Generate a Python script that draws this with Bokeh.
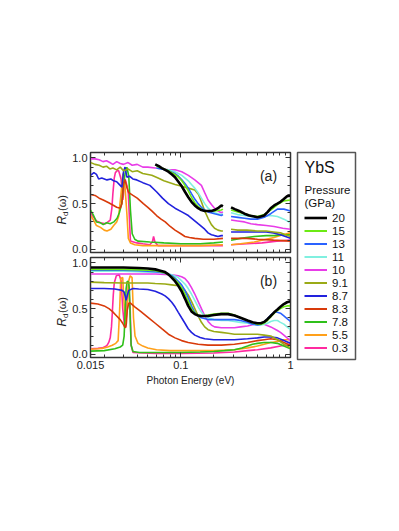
from bokeh.plotting import figure
from bokeh.layouts import row, column
from bokeh.models import (FixedTicker, PrintfTickFormatter, CustomJSTickFormatter, LogAxis,
                          LinearAxis, Label, Legend, LegendItem, Range1d)
from bokeh.embed import file_html
from bokeh.resources import INLINE

nan = float("nan")
FONT = "Liberation Sans"

PRESSURES = ["20", "15", "13", "11", "10", "9.1", "8.7", "8.3", "7.8", "5.5", "0.3"]
COLORS = ["#000000", "#6cea14", "#2a62ff", "#80f0e0", "#e83ce8", "#9aaa16",
          "#2222dd", "#d83a0a", "#2fc01a", "#ffa01a", "#ff2aa0"]

X_TICKS = [0.015, 0.1, 1.0]
X_MINOR = [0.02, 0.03, 0.04, 0.05, 0.06, 0.07, 0.08, 0.09,
           0.2, 0.3, 0.4, 0.5, 0.6, 0.7, 0.8, 0.9]
Y_TICKS = [0.0, 0.5, 1.0]
Y_MINOR = [0.1, 0.2, 0.3, 0.4, 0.6, 0.7, 0.8, 0.9]

# ---------------- panel (a): measured spectra (gap = diamond absorption) ----------
a20_x = [0.0584, 0.063, 0.067, 0.072, 0.077, 0.083, 0.0885, 0.095, 0.102, 0.109, 0.117, 0.125, 0.134, 0.1437, 0.154, 0.165, 0.177, 0.19, 0.203, 0.218, 0.234, 0.242, nan,
         0.287, 0.31, 0.34, 0.38, 0.42, 0.467, 0.5, 0.536, 0.575, 0.62, 0.66, 0.71, 0.76, 0.81, 0.87, 0.93, 1.0]
a20_y = [0.93, 0.91, 0.89, 0.87, 0.85, 0.82, 0.79, 0.74, 0.69, 0.63, 0.57, 0.52, 0.48, 0.45, 0.43, 0.42, 0.42, 0.42, 0.43, 0.45, 0.48, 0.47, nan,
         0.46, 0.44, 0.42, 0.39, 0.37, 0.36, 0.35, 0.36, 0.37, 0.41, 0.45, 0.48, 0.5, 0.52, 0.55, 0.58, 0.59]
a15_x = [0.06, 0.067, 0.077, 0.0885, 0.095, 0.102, 0.109, 0.117, 0.125, 0.134, 0.1437, 0.154, 0.165, 0.177, 0.203, 0.234, 0.242, nan,
         0.287, 0.33, 0.38, 0.435, 0.5, 0.575, 0.66, 0.76, 0.87, 1.0]
a15_y = [0.91, 0.89, 0.86, 0.82, 0.79, 0.75, 0.7, 0.64, 0.57, 0.51, 0.47, 0.44, 0.42, 0.42, 0.42, 0.43, 0.44, nan,
         0.43, 0.41, 0.39, 0.37, 0.36, 0.38, 0.43, 0.49, 0.53, 0.54]
a13_x = [0.06, 0.067, 0.077, 0.0885, 0.095, 0.102, 0.109, 0.117, 0.125, 0.134, 0.1437, 0.154, 0.165, 0.177, 0.203, 0.234, 0.242, nan,
         0.287, 0.33, 0.38, 0.435, 0.5, 0.575, 0.66, 0.76, 0.87, 1.0]
a13_y = [0.89, 0.88, 0.86, 0.83, 0.8, 0.76, 0.72, 0.67, 0.61, 0.55, 0.5, 0.46, 0.43, 0.41, 0.39, 0.37, 0.38, nan,
         0.36, 0.35, 0.34, 0.33, 0.33, 0.35, 0.39, 0.44, 0.44, 0.42]
a11_x = [0.06, 0.067, 0.077, 0.0885, 0.102, 0.117, 0.125, 0.134, 0.1437, 0.154, 0.165, 0.177, 0.19, 0.203, 0.218, 0.234, 0.242, nan,
         0.287, 0.33, 0.38, 0.435, 0.5, 0.575, 0.66, 0.76, 0.87, 1.0]
a11_y = [0.89, 0.88, 0.87, 0.85, 0.81, 0.75, 0.71, 0.67, 0.62, 0.56, 0.5, 0.45, 0.42, 0.4, 0.39, 0.38, 0.39, nan,
         0.4, 0.38, 0.37, 0.36, 0.35, 0.36, 0.37, 0.36, 0.33, 0.29]
a10_x = [0.015, 0.0165, 0.018, 0.0195, 0.021, 0.0225, 0.024, 0.026, 0.028, 0.03, 0.033, 0.036, 0.04, 0.045, 0.05, 0.0584, 0.067, 0.077, 0.0885, 0.102, 0.117, 0.134, 0.154, 0.165, 0.177, 0.19, 0.203, 0.218, 0.234, 0.242, nan,
         0.287, 0.33, 0.38, 0.435, 0.5, 0.6, 0.708, 0.85, 1.0]
a10_y = [0.99, 0.99, 0.98, 0.96, 0.97, 0.95, 0.93, 0.96, 0.94, 0.93, 0.95, 0.92, 0.93, 0.9, 0.9, 0.89, 0.88, 0.87, 0.87, 0.85, 0.81, 0.76, 0.7, 0.62, 0.54, 0.49, 0.45, 0.42, 0.4, 0.41, nan,
         0.32, 0.31, 0.3, 0.28, 0.27, 0.26, 0.25, 0.23, 0.22]
a91_x = [0.015, 0.0165, 0.018, 0.0195, 0.021, 0.0225, 0.024, 0.026, 0.028, 0.03, 0.033, 0.036, 0.04, 0.045, 0.0543, 0.062, 0.07, 0.0885, 0.102, 0.117, 0.134, 0.145, 0.154, 0.165, 0.177, 0.19, 0.203, 0.218, 0.234, 0.242, nan,
         0.287, 0.33, 0.4, 0.5, 0.6, 0.7, 0.81, 0.9, 1.0]
a91_y = [0.95, 0.93, 0.92, 0.9, 0.91, 0.88, 0.89, 0.87, 0.9, 0.86, 0.88, 0.85, 0.86, 0.83, 0.81, 0.78, 0.75, 0.71, 0.69, 0.67, 0.65, 0.6, 0.52, 0.42, 0.34, 0.27, 0.23, 0.21, 0.2, 0.2, nan,
         0.22, 0.21, 0.21, 0.2, 0.2, 0.19, 0.18, 0.16, 0.14]
a87_x = [0.015, 0.0161, 0.017, 0.0178, 0.019, 0.0212, 0.023, 0.0244, 0.026, 0.028, 0.029, 0.03, 0.031, 0.0322, 0.034, 0.0365, 0.0396, 0.045, 0.0522, 0.06, 0.068, 0.077, 0.0885, 0.102, 0.117, 0.1437, 0.165, 0.177, 0.19, 0.203, 0.218, 0.234, 0.242, nan,
         0.287, 0.33, 0.4, 0.5, 0.6, 0.7, 0.81, 0.9, 1.0]
a87_y = [0.81, 0.84, 0.82, 0.77, 0.78, 0.76, 0.77, 0.75, 0.74, 0.7, 0.68, 0.85, 0.9, 0.79, 0.8, 0.77, 0.76, 0.73, 0.7, 0.63, 0.56, 0.5, 0.45, 0.41, 0.37, 0.28, 0.22, 0.18, 0.16, 0.15, 0.14, 0.15, 0.15, nan,
         0.19, 0.19, 0.19, 0.19, 0.19, 0.18, 0.16, 0.14, 0.12]
a83_x = [0.015, 0.0165, 0.018, 0.0196, 0.022, 0.0244, 0.026, 0.028, 0.029, 0.03, 0.031, 0.0322, 0.0335, 0.0366, 0.04, 0.0455, 0.05, 0.0543, 0.06, 0.066, 0.072, 0.08, 0.0885, 0.1, 0.109, 0.12, 0.134, 0.16, 0.2, 0.242, nan,
         0.287, 0.4, 0.5, 0.7, 1.0]
a83_y = [0.6, 0.59, 0.56, 0.54, 0.51, 0.48, 0.46, 0.45, 0.5, 0.72, 0.76, 0.68, 0.62, 0.59, 0.56, 0.5, 0.46, 0.42, 0.37, 0.33, 0.3, 0.25, 0.21, 0.17, 0.14, 0.13, 0.12, 0.11, 0.11, 0.12, nan,
         0.12, 0.12, 0.11, 0.1, 0.09]
a78_x = [0.015, 0.016, 0.017, 0.0185, 0.0196, 0.021, 0.0227, 0.0245, 0.0262, 0.0275, 0.0289, 0.03, 0.031, 0.0322, 0.0335, 0.0347, 0.036, 0.038, 0.0405, 0.0522, 0.07, 0.1, 0.15, 0.2, 0.242, nan,
         0.287, 0.35, 0.467, 0.6, 0.708, 0.85, 1.0]
a78_y = [0.43, 0.37, 0.3, 0.29, 0.27, 0.29, 0.28, 0.3, 0.34, 0.4, 0.5, 0.7, 0.83, 0.9, 0.8, 0.43, 0.17, 0.11, 0.09, 0.08, 0.07, 0.06, 0.06, 0.07, 0.08, nan,
         0.1, 0.12, 0.14, 0.15, 0.15, 0.16, 0.16]
a55_x = [0.015, 0.016, 0.017, 0.0185, 0.02, 0.0212, 0.023, 0.0244, 0.026, 0.0271, 0.0285, 0.0296, 0.031, 0.0322, 0.0332, 0.0347, 0.038, 0.045, 0.06, 0.1, 0.15, 0.242, nan,
         0.287, 0.35, 0.467, 0.6, 0.708, 0.85, 1.0]
a55_y = [0.37, 0.32, 0.26, 0.24, 0.21, 0.2, 0.22, 0.26, 0.3, 0.36, 0.61, 0.83, 0.68, 0.39, 0.12, 0.07, 0.05, 0.04, 0.04, 0.04, 0.04, 0.05, nan,
         0.05, 0.06, 0.08, 0.11, 0.13, 0.16, 0.18]
a03_x = [0.015, 0.016, 0.017, 0.0185, 0.0206, 0.0227, 0.0235, 0.024, 0.0247, 0.0253, 0.0262, 0.0271, 0.0285, 0.0296, 0.031, 0.0322, 0.0332, 0.034, 0.0347, 0.0396, 0.045, 0.052, 0.055, 0.0564, 0.058, 0.062, 0.08, 0.12, 0.18, 0.242, nan,
         0.287, 0.4, 0.55, 0.75, 1.0]
a03_y = [0.4, 0.35, 0.31, 0.29, 0.28, 0.32, 0.45, 0.61, 0.78, 0.84, 0.86, 0.86, 0.77, 0.54, 0.77, 0.7, 0.61, 0.32, 0.09, 0.07, 0.06, 0.05, 0.08, 0.14, 0.08, 0.04, 0.04, 0.04, 0.04, 0.04, nan,
         0.05, 0.06, 0.07, 0.09, 0.1]

# ---------------- panel (b): model fits ----------
bhi_x = [0.015, 0.02, 0.03, 0.0413, 0.05, 0.0584, 0.065, 0.0718, 0.077, 0.0826, 0.0885, 0.0948, 0.1016, 0.109, 0.1167, 0.125, 0.134, 0.1437, 0.154, 0.177, 0.2, 0.234, 0.27, 0.308, 0.35, 0.406, 0.45, 0.5, 0.536, 0.575, 0.616, 0.66, 0.71, 0.76, 0.81, 0.87, 0.93, 1.0]
b20_y = [0.95, 0.95, 0.95, 0.945, 0.94, 0.93, 0.915, 0.9, 0.875, 0.84, 0.8, 0.75, 0.69, 0.61, 0.53, 0.47, 0.44, 0.425, 0.42, 0.42, 0.43, 0.44, 0.44, 0.425, 0.4, 0.37, 0.35, 0.34, 0.34, 0.355, 0.385, 0.42, 0.46, 0.49, 0.52, 0.55, 0.57, 0.58]
b15_y = [0.93, 0.93, 0.93, 0.925, 0.92, 0.915, 0.905, 0.89, 0.87, 0.85, 0.82, 0.78, 0.73, 0.66, 0.58, 0.5, 0.45, 0.43, 0.42, 0.43, 0.44, 0.45, 0.45, 0.43, 0.4, 0.37, 0.345, 0.33, 0.33, 0.34, 0.37, 0.41, 0.45, 0.48, 0.5, 0.52, 0.53, 0.53]
b13_y = [0.92, 0.92, 0.92, 0.915, 0.91, 0.905, 0.9, 0.89, 0.875, 0.86, 0.835, 0.8, 0.76, 0.7, 0.62, 0.53, 0.46, 0.42, 0.4, 0.38, 0.38, 0.38, 0.38, 0.38, 0.37, 0.35, 0.33, 0.32, 0.33, 0.35, 0.39, 0.43, 0.46, 0.46, 0.45, 0.42, 0.39, 0.36]
b11_x = [0.015, 0.02, 0.03, 0.0413, 0.05, 0.0584, 0.0718, 0.0826, 0.0948, 0.109, 0.1167, 0.125, 0.134, 0.1437, 0.154, 0.165, 0.177, 0.2, 0.234, 0.27, 0.308, 0.35, 0.406, 0.45, 0.5, 0.536, 0.575, 0.616, 0.66, 0.71, 0.76, 0.81, 0.87, 0.93, 1.0]
b11_y = [0.91, 0.91, 0.91, 0.905, 0.9, 0.9, 0.89, 0.87, 0.84, 0.77, 0.72, 0.66, 0.59, 0.52, 0.46, 0.42, 0.4, 0.38, 0.37, 0.37, 0.36, 0.35, 0.34, 0.33, 0.32, 0.32, 0.33, 0.34, 0.36, 0.37, 0.37, 0.35, 0.33, 0.3, 0.27]
b10_x = [0.015, 0.02, 0.03, 0.0413, 0.05, 0.0584, 0.0718, 0.0826, 0.0948, 0.1016, 0.109, 0.1167, 0.125, 0.134, 0.1437, 0.154, 0.165, 0.177, 0.19, 0.203, 0.234, 0.27, 0.308, 0.35, 0.406, 0.467, 0.5, 0.575, 0.66, 0.76, 0.81, 0.87, 0.93, 1.0]
b10_y = [0.88, 0.88, 0.88, 0.88, 0.88, 0.88, 0.875, 0.87, 0.86, 0.85, 0.83, 0.79, 0.73, 0.66, 0.58, 0.5, 0.42, 0.36, 0.32, 0.3, 0.29, 0.29, 0.29, 0.3, 0.31, 0.33, 0.33, 0.33, 0.3, 0.26, 0.24, 0.21, 0.18, 0.15]
b91_x = [0.015, 0.02, 0.03, 0.0413, 0.05, 0.0584, 0.0718, 0.0826, 0.0948, 0.1016, 0.109, 0.1167, 0.125, 0.134, 0.1437, 0.154, 0.165, 0.177, 0.2, 0.234, 0.27, 0.308, 0.35, 0.406, 0.5, 0.575, 0.66, 0.76, 0.87, 1.0]
b91_y = [0.79, 0.785, 0.78, 0.78, 0.78, 0.775, 0.77, 0.76, 0.75, 0.73, 0.7, 0.65, 0.58, 0.5, 0.42, 0.35, 0.3, 0.27, 0.25, 0.24, 0.23, 0.22, 0.22, 0.22, 0.22, 0.21, 0.2, 0.16, 0.11, 0.07]
b87_x = [0.015, 0.02, 0.025, 0.0292, 0.0304, 0.031, 0.0317, 0.0324, 0.0335, 0.0366, 0.0413, 0.05, 0.0584, 0.067, 0.0718, 0.077, 0.0826, 0.0885, 0.0948, 0.1016, 0.109, 0.1167, 0.125, 0.134, 0.15, 0.165, 0.2, 0.234, 0.308, 0.406, 0.5, 0.575, 0.66, 0.76, 0.87, 1.0]
b87_y = [0.72, 0.72, 0.715, 0.7, 0.68, 0.64, 0.59, 0.64, 0.7, 0.72, 0.715, 0.71, 0.69, 0.66, 0.64, 0.61, 0.57, 0.52, 0.46, 0.4, 0.34, 0.28, 0.24, 0.21, 0.185, 0.17, 0.16, 0.16, 0.16, 0.17, 0.18, 0.19, 0.19, 0.18, 0.15, 0.12]
b83_x = [0.015, 0.0175, 0.02, 0.0221, 0.0237, 0.026, 0.028, 0.0295, 0.0304, 0.0313, 0.0318, 0.0324, 0.0335, 0.0347, 0.038, 0.043, 0.0508, 0.0584, 0.067, 0.077, 0.0885, 0.1016, 0.1167, 0.1437, 0.177, 0.234, 0.308, 0.406, 0.5, 0.575, 0.66, 0.76, 0.87, 1.0]
b83_y = [0.56, 0.55, 0.53, 0.5, 0.47, 0.42, 0.38, 0.34, 0.31, 0.29, 0.33, 0.48, 0.56, 0.56, 0.52, 0.47, 0.4, 0.34, 0.28, 0.22, 0.18, 0.15, 0.13, 0.11, 0.1, 0.1, 0.11, 0.13, 0.15, 0.16, 0.17, 0.16, 0.13, 0.1]
b78_x = [0.015, 0.02, 0.025, 0.028, 0.0295, 0.0304, 0.031, 0.0317, 0.0324, 0.0334, 0.034, 0.0345, 0.0352, 0.0366, 0.042, 0.05, 0.07, 0.1, 0.15, 0.2, 0.25, 0.308, 0.36, 0.406, 0.45, 0.5, 0.575, 0.66, 0.76, 0.87, 1.0]
b78_y = [0.035, 0.04, 0.06, 0.08, 0.1, 0.2, 0.45, 0.72, 0.8, 0.79, 0.7, 0.4, 0.1, 0.03, 0.02, 0.02, 0.02, 0.02, 0.025, 0.03, 0.04, 0.05, 0.07, 0.09, 0.11, 0.12, 0.13, 0.13, 0.12, 0.09, 0.06]
b55_x = [0.015, 0.0175, 0.0192, 0.0215, 0.0237, 0.0255, 0.0268, 0.0277, 0.0283, 0.0295, 0.0304, 0.0314, 0.0324, 0.0334, 0.0345, 0.0359, 0.037, 0.0382, 0.0407, 0.045, 0.05, 0.06, 0.08, 0.12, 0.2, 0.308, 0.406, 0.5, 0.575, 0.66, 0.76, 0.87, 1.0]
b55_y = [0.055, 0.06, 0.065, 0.08, 0.1, 0.12, 0.15, 0.5, 0.83, 0.84, 0.55, 0.33, 0.5, 0.8, 0.86, 0.84, 0.4, 0.2, 0.12, 0.09, 0.07, 0.05, 0.04, 0.04, 0.04, 0.05, 0.07, 0.09, 0.11, 0.13, 0.14, 0.16, 0.16]
b03_x = [0.015, 0.0175, 0.0192, 0.0205, 0.0213, 0.022, 0.0227, 0.0233, 0.0237, 0.0242, 0.0247, 0.0258, 0.0274, 0.0286, 0.0295, 0.0304, 0.0314, 0.0324, 0.0334, 0.0345, 0.0352, 0.0366, 0.045, 0.06, 0.1, 0.2, 0.308, 0.406, 0.5, 0.66, 0.81, 1.0]
b03_y = [0.06, 0.065, 0.07, 0.085, 0.1, 0.13, 0.18, 0.3, 0.45, 0.65, 0.78, 0.86, 0.87, 0.8, 0.5, 0.35, 0.3, 0.6, 0.76, 0.5, 0.1, 0.02, 0.015, 0.01, 0.01, 0.015, 0.025, 0.04, 0.05, 0.07, 0.09, 0.11]

CURVES_A = {"20": (a20_x, a20_y), "15": (a15_x, a15_y), "13": (a13_x, a13_y),
            "11": (a11_x, a11_y), "10": (a10_x, a10_y), "9.1": (a91_x, a91_y),
            "8.7": (a87_x, a87_y), "8.3": (a83_x, a83_y), "7.8": (a78_x, a78_y),
            "5.5": (a55_x, a55_y), "0.3": (a03_x, a03_y)}
CURVES_B = {"20": (bhi_x, b20_y), "15": (bhi_x, b15_y), "13": (bhi_x, b13_y),
            "11": (b11_x, b11_y), "10": (b10_x, b10_y), "9.1": (b91_x, b91_y),
            "8.7": (b87_x, b87_y), "8.3": (b83_x, b83_y), "7.8": (b78_x, b78_y),
            "5.5": (b55_x, b55_y), "0.3": (b03_x, b03_y)}

AX = "#333333"
TXT = "#222222"
LAB_W = 69          # width of the strip that carries the y-axis titles
BORDER_L = 19
TOP_A, BOT_A = 152, 2
TOP_B, BOT_B = 3, 31


def style_axis(ax, show_labels):
    ax.major_tick_in = 5
    ax.major_tick_out = 0
    ax.minor_tick_in = 3
    ax.minor_tick_out = 0
    ax.axis_line_color = AX
    ax.major_tick_line_color = AX
    ax.minor_tick_line_color = AX
    ax.major_label_text_font = FONT
    ax.major_label_text_color = TXT
    if show_labels:
        ax.major_label_text_font_size = "11px"
        ax.major_label_standoff = 3
    else:
        ax.formatter = CustomJSTickFormatter(code="return ''")
        ax.major_label_text_font_size = "1px"
        ax.major_label_standoff = 0


def make_panel(curves, tag, border_top, border_bottom, show_x):
    p = figure(width=BORDER_L + 202 + 5, height=border_top + 100 + border_bottom, x_axis_type="log",
               x_range=Range1d(0.015, 1.0), y_range=Range1d(-0.035, 1.06),
               output_backend="svg", toolbar_location=None,
               min_border_left=BORDER_L, min_border_right=5,
               min_border_top=border_top, min_border_bottom=border_bottom)
    p.grid.visible = False
    p.outline_line_color = AX
    p.outline_line_width = 1.5
    for pr, col in reversed(list(zip(PRESSURES, COLORS))):
        x, y = curves[pr]
        p.line(x, y, line_color=col, line_width=2.6 if pr == "20" else 1.6)
    bottom = p.below[0]
    left = p.left[0]
    bottom.ticker = FixedTicker(ticks=X_TICKS, minor_ticks=X_MINOR)
    left.ticker = FixedTicker(ticks=Y_TICKS, minor_ticks=Y_MINOR)
    bottom.formatter = PrintfTickFormatter(format="%g")
    left.formatter = PrintfTickFormatter(format="%.1f")
    style_axis(bottom, show_x)
    style_axis(left, True)
    top = LogAxis(ticker=FixedTicker(ticks=X_TICKS, minor_ticks=X_MINOR))
    right = LinearAxis(ticker=FixedTicker(ticks=Y_TICKS, minor_ticks=Y_MINOR))
    style_axis(top, False)
    style_axis(right, False)
    p.add_layout(top, "above")
    p.add_layout(right, "right")
    if show_x:
        bottom.axis_label = "Photon Energy (eV)"
        bottom.axis_label_text_font = FONT
        bottom.axis_label_text_font_style = "normal"
        bottom.axis_label_text_font_size = "10px"
        bottom.axis_label_standoff = 3
        bottom.axis_label_text_color = TXT
    p.add_layout(Label(x=0.63, y=0.80, text=tag, text_font=FONT, text_font_size="14px",
                       text_align="center", text_baseline="middle", text_color=TXT))
    return p


def make_ylabel_strip(height, y0):
    s = figure(width=LAB_W, height=height, x_range=Range1d(0, LAB_W), y_range=Range1d(0, height),
               x_axis_location=None, y_axis_location=None, output_backend="svg",
               toolbar_location=None, min_border=0)
    s.grid.visible = False
    s.outline_line_color = None
    s.add_layout(Label(x=61.5, y=y0, text="R", angle=1.5708, text_font=FONT,
                       text_font_style="italic", text_font_size="12px",
                       text_align="left", text_baseline="middle", text_color=TXT))
    s.add_layout(Label(x=64.5, y=y0 + 8.5, text="d", angle=1.5708, text_font=FONT,
                       text_font_size="8px", text_align="left", text_baseline="middle",
                       text_color=TXT))
    s.add_layout(Label(x=61.5, y=y0 + 13.5, text="(ω)", angle=1.5708, text_font=FONT,
                       text_font_size="11px", text_align="left", text_baseline="middle",
                       text_color=TXT))
    return s


pa = make_panel(CURVES_A, "(a)", TOP_A, BOT_A, False)
pb = make_panel(CURVES_B, "(b)", TOP_B, BOT_B, True)
ya = make_ylabel_strip(pa.height, pa.height - 224)
yb = make_ylabel_strip(pb.height, pb.height - (326 - pa.height))

# ---------------- legend panel ----------------
H = pa.height + pb.height
leg = figure(width=62, height=H, x_range=Range1d(0, 58), y_range=Range1d(0, 207),
             x_axis_location=None, y_axis_location=None, output_backend="svg",
             toolbar_location=None, min_border_left=2, min_border_right=2,
             min_border_top=152, min_border_bottom=H - 152 - 207)
leg.grid.visible = False
leg.outline_line_color = "#555555"
leg.outline_line_width = 1.5
leg.add_layout(Label(x=7, y=192, text="YbS", text_font=FONT, text_font_size="16px",
                     text_baseline="middle", text_color="#111111"))
leg.add_layout(Label(x=7, y=170, text="Pressure", text_font=FONT, text_font_size="11.5px",
                     text_baseline="middle", text_color="#111111"))
leg.add_layout(Label(x=7, y=157, text="(GPa)", text_font=FONT, text_font_size="11.5px",
                     text_baseline="middle", text_color="#111111"))
items = []
for pr, col in zip(PRESSURES, COLORS):
    r = leg.line(x=[0.0], y=[-50.0], line_color=col, line_width=2.6 if pr == "20" else 2.0)
    items.append(LegendItem(label=pr, renderers=[r]))
legend = Legend(items=items, location=(7, 5), orientation="vertical",
                border_line_color=None, background_fill_alpha=0, padding=0, margin=0,
                spacing=0, glyph_width=23, glyph_height=13, label_height=13,
                label_standoff=5, label_text_font=FONT, label_text_font_size="11.5px",
                label_text_color="#111111")
leg.add_layout(legend)

layout = row(column(ya, yb), column(pa, pb), leg)
open("out.html", "w").write(file_html(layout, INLINE))
